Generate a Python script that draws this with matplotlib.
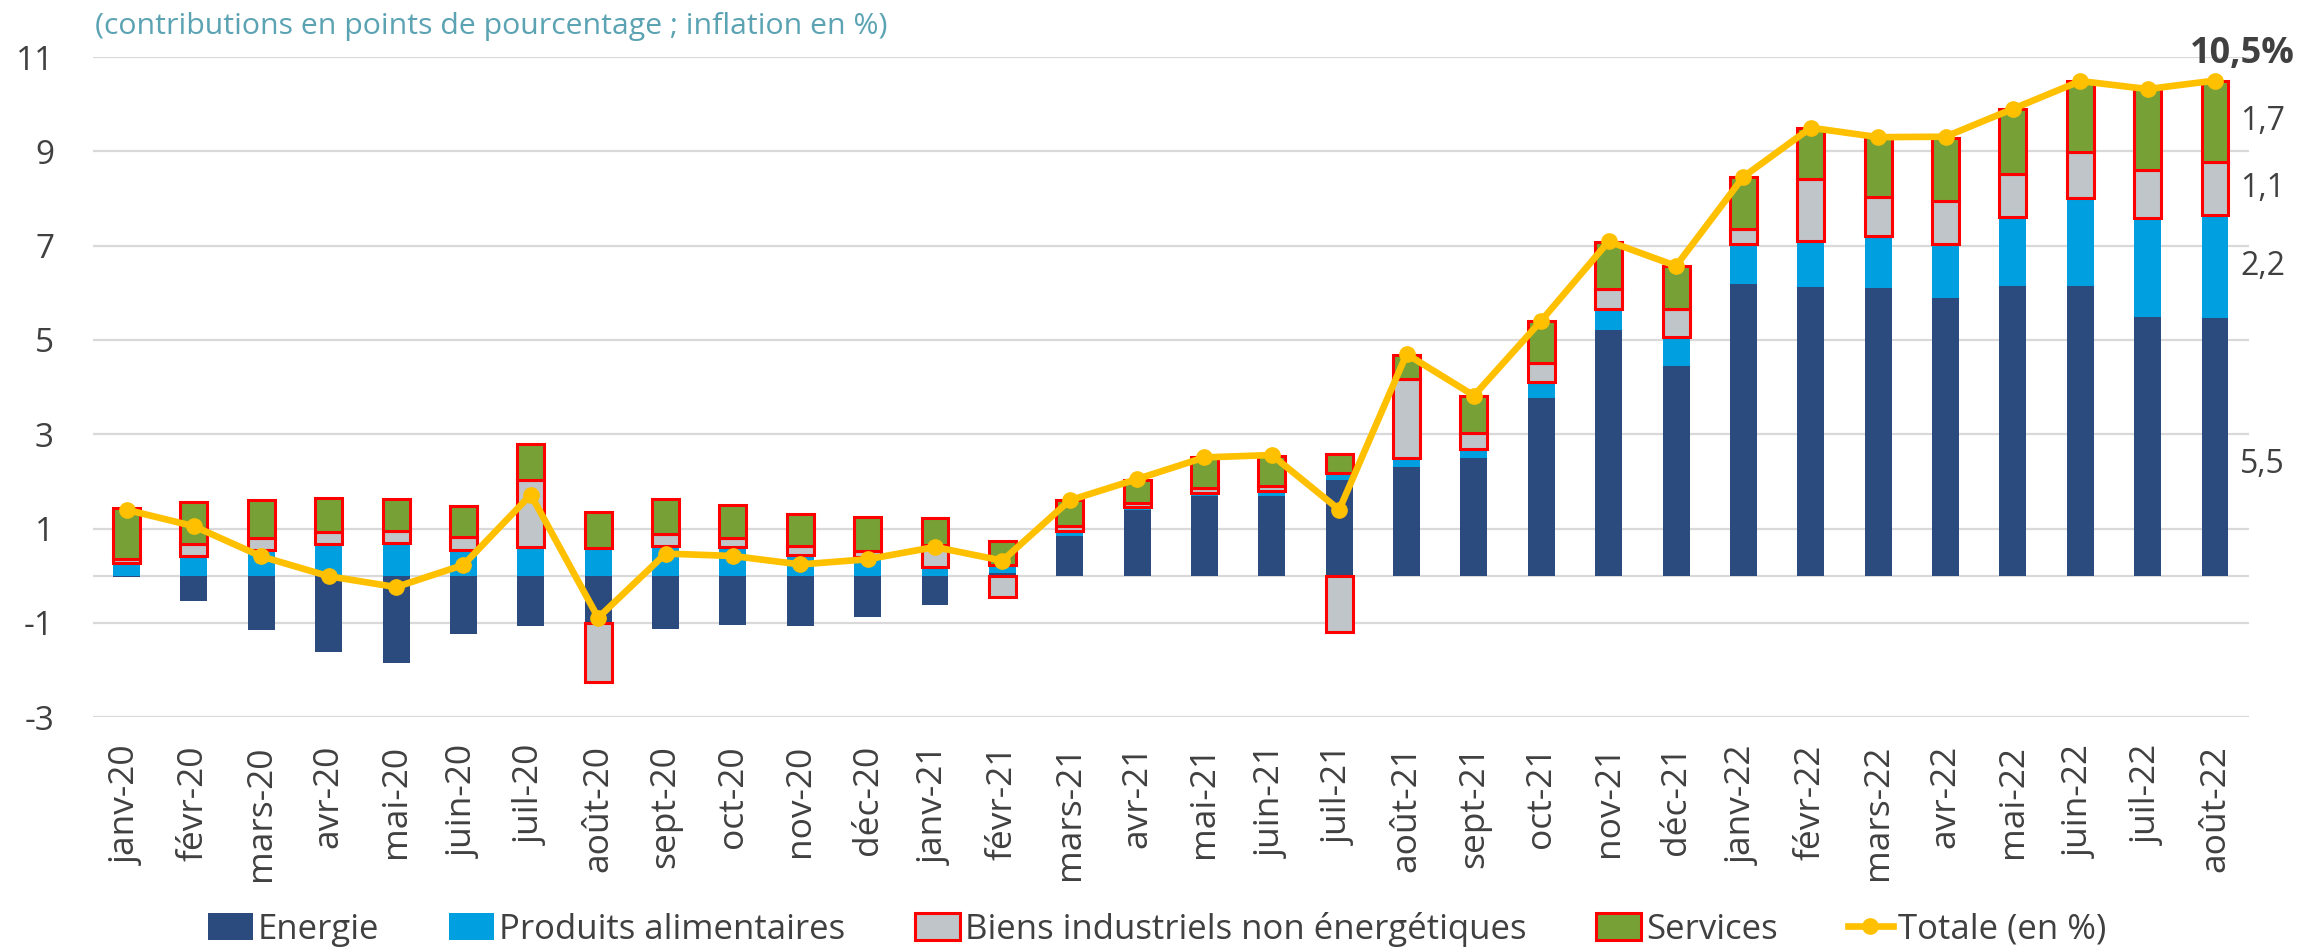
import matplotlib
matplotlib.use("Agg")
import matplotlib.pyplot as plt
import numpy as np
from matplotlib.lines import Line2D
from matplotlib.patches import Patch

plt.rcParams['font.family'] = ['Open Sans', 'DejaVu Sans']

months = ['janv-20', 'févr-20', 'mars-20', 'avr-20', 'mai-20', 'juin-20', 'juil-20', 'août-20',
          'sept-20', 'oct-20', 'nov-20', 'déc-20', 'janv-21', 'févr-21', 'mars-21', 'avr-21',
          'mai-21', 'juin-21', 'juil-21', 'août-21', 'sept-21', 'oct-21', 'nov-21', 'déc-21',
          'janv-22', 'févr-22', 'mars-22', 'avr-22', 'mai-22', 'juin-22', 'juil-22', 'août-22']

energie = [-0.02, -0.54, -1.16, -1.62, -1.85, -1.24, -1.07, -1.00, -1.12, -1.05, -1.07, -0.88,
           -0.61, 0.05, 0.85, 1.39, 1.70, 1.70, 2.03, 2.30, 2.49, 3.78, 5.21, 4.45,
           6.18, 6.13, 6.10, 5.89, 6.14, 6.14, 5.48, 5.47]
alimentaires = [0.28, 0.42, 0.54, 0.68, 0.69, 0.55, 0.61, 0.59, 0.63, 0.61, 0.43, 0.40,
                0.18, 0.17, 0.10, 0.07, 0.06, 0.10, 0.14, 0.20, 0.20, 0.33, 0.45, 0.61,
                0.85, 0.96, 1.11, 1.15, 1.47, 1.86, 2.10, 2.17]
biens = [0.08, 0.26, 0.27, 0.25, 0.25, 0.27, 1.43, -1.25, 0.25, 0.20, 0.21, 0.13,
         0.48, -0.46, 0.10, 0.08, 0.10, 0.10, -1.19, 1.67, 0.34, 0.40, 0.43, 0.59,
         0.32, 1.32, 0.82, 0.90, 0.90, 0.99, 1.03, 1.13]
services = [1.08, 0.88, 0.79, 0.71, 0.69, 0.65, 0.76, 0.77, 0.74, 0.69, 0.66, 0.72,
            0.57, 0.52, 0.55, 0.50, 0.65, 0.64, 0.41, 0.52, 0.78, 0.90, 0.99, 0.91,
            1.11, 1.09, 1.27, 1.35, 1.39, 1.51, 1.72, 1.73]
totale = [1.40, 1.05, 0.41, -0.01, -0.24, 0.23, 1.72, -0.89, 0.47, 0.42, 0.24, 0.35,
          0.61, 0.32, 1.60, 2.05, 2.51, 2.56, 1.40, 4.70, 3.82, 5.41, 7.09, 6.57,
          8.46, 9.50, 9.30, 9.31, 9.90, 10.49, 10.32, 10.50]

series_names = ['Energie', 'Produits alimentaires', 'Biens industriels non énergétiques', 'Services']
line_name = 'Totale (en %)'
title_text = '(contributions en points de pourcentage ; inflation en %)'
headline = '10,5%'

C_ENERGY = '#2B4A7E'
C_FOOD = '#009FDF'
C_BIENS = '#BFC5C8'
C_SERV = '#77A136'
C_RED = '#FF0000'
C_LINE = '#FFC000'
C_TEXT = '#404040'
C_GRID = '#D9D9D9'

fig = plt.figure(figsize=(23.23, 9.50), dpi=100)
ax = fig.add_axes([0.040, 0.245, 0.928, 0.695])

x = np.arange(len(months))
w = 0.40
pos_base = np.zeros(len(months))
neg_base = np.zeros(len(months))
styles = [(C_ENERGY, 'none', 0), (C_FOOD, 'none', 0), (C_BIENS, C_RED, 2.2), (C_SERV, C_RED, 2.2)]
for vals, (fc, ec, lw) in zip([energie, alimentaires, biens, services], styles):
    v = np.array(vals)
    bottom = np.where(v >= 0, pos_base, neg_base)
    ax.bar(x, v, w, bottom=bottom, color=fc, edgecolor=ec, linewidth=lw, zorder=3)
    pos_base = pos_base + np.where(v >= 0, v, 0)
    neg_base = neg_base + np.where(v < 0, v, 0)

ax.plot(x, totale, color=C_LINE, linewidth=4.8, marker='o', markersize=11, zorder=5)

ax.set_xlim(-0.5, len(months) - 0.5)
ax.set_ylim(-3, 11)
ax.set_yticks(np.arange(-3, 12, 2))
ax.set_yticklabels([str(t) for t in range(-3, 12, 2)])
ax.yaxis.grid(True, color=C_GRID, linewidth=1.6, zorder=0)
ax.axhline(0, color=C_GRID, linewidth=1.6, zorder=1)
ax.set_axisbelow(True)
ax.set_xticks(x)
ax.set_xticklabels(months, rotation=90)
ax.tick_params(axis='both', length=0, labelcolor=C_TEXT)
ax.tick_params(axis='y', pad=28, labelsize=24)
ax.tick_params(axis='x', pad=20, labelsize=25.5)
for s in ax.spines.values():
    s.set_visible(False)

# last-month labels (energy label sits a little below its segment's middle, as in the source)
last = len(months) - 1
vals_last = [energie[last], alimentaires[last], biens[last], services[last]]
label_frac = [0.43, 0.5, 0.5, 0.5]
base = 0.0
for v, f in zip(vals_last, label_frac):
    ax.text(last + 0.37, base + v * f, f'{v:.1f}'.replace('.', ','), ha='left', va='center',
            fontsize=23, color=C_TEXT, clip_on=False)
    base += v
ax.text(last + 0.4, 11.07, headline, ha='center', va='center', fontsize=26,
        fontweight='bold', color=C_TEXT, clip_on=False)

fig.text(0.041, 0.972, title_text, ha='left', va='center', fontsize=21.8, color='#5BA3B3')

handles = [Patch(facecolor=C_ENERGY, edgecolor='none'),
           Patch(facecolor=C_FOOD, edgecolor='none'),
           Patch(facecolor=C_BIENS, edgecolor=C_RED, linewidth=2.2),
           Patch(facecolor=C_SERV, edgecolor=C_RED, linewidth=2.2),
           Line2D([0], [0], color=C_LINE, linewidth=4.8, marker='o', markersize=11)]
leg = fig.legend(handles, series_names + [line_name], loc='center', bbox_to_anchor=(0.498, 0.022),
                 ncol=5, frameon=False, fontsize=25, handlelength=1.3, handleheight=0.8,
                 handletextpad=0.15, columnspacing=2.0, borderpad=0.1)
for t in leg.get_texts():
    t.set_color(C_TEXT)

fig.savefig('out.png', dpi=100)
